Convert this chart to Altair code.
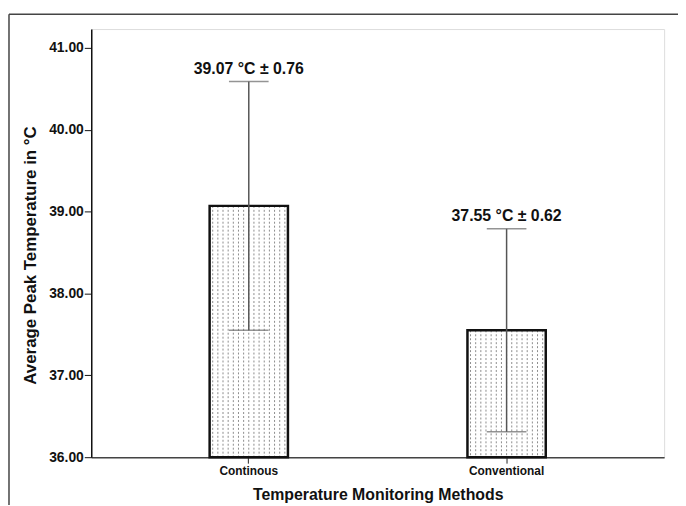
import altair as alt
import pandas as pd

# ---- data ----
methods = ["Continous", "Conventional"]
means = [39.07, 37.55]
sd = [0.76, 0.62]
err_low = [37.55, 36.31]
err_high = [40.59, 38.79]
labels = ["39.07 °C ± 0.76", "37.55 °C ± 0.62"]
y_ticks = [36, 37, 38, 39, 40, 41]

df = pd.DataFrame({"method": methods, "mean": means, "sd": sd,
                   "lo": err_low, "hi": err_high, "label": labels})

FONT = "Liberation Sans"
W, H = 578, 432
x_pad_outer = 0.111

xscale = alt.Scale(domain=methods, paddingInner=0, paddingOuter=x_pad_outer)
yscale = alt.Scale(domain=[36, 41.23], nice=False, zero=False)

x_enc = alt.X("method:N", scale=xscale, sort=methods,
              axis=alt.Axis(title="Temperature Monitoring Methods", labelAngle=0,
                            labelFont=FONT, labelFontSize=12, labelFontWeight="bold",
                            labelColor="#111", tickSize=6, tickColor="#222",
                            domainColor="#444", domainWidth=1.5, labelPadding=2,
                            titleFont=FONT, titleFontSize=16, titleFontWeight="bold",
                            titleColor="#111", titlePadding=11))
y_enc = alt.Y("mean:Q", scale=yscale,
              axis=alt.Axis(values=y_ticks, format=".2f",
                            title="Average Peak Temperature in °C",
                            labelFont=FONT, labelFontSize=14, labelFontWeight="bold",
                            labelColor="#111", tickSize=7, tickColor="#111",
                            domainColor="#111", domainWidth=1.5, labelPadding=1,
                            titleFont=FONT, titleFontSize=17, titleFontWeight="bold",
                            titleColor="#111", titlePadding=9, titleY=228, grid=False))

xs = alt.X("method:N", scale=xscale, sort=methods)
base = alt.Chart(df)

bar_fill = base.mark_bar(size=79, fill="white", strokeWidth=0).encode(
    x=x_enc, y=y_enc, y2=alt.datum(36))

# decorative dotted fill pattern (vertical dotted lines inside each bar)
n_stripes = 15
stripe_step = 5.2
stripe_layers = []
for k in range(n_stripes):
    dx = (k - (n_stripes - 1) / 2) * stripe_step
    stripe_layers.append(
        base.mark_rule(color="#8c8c8c", strokeWidth=1, strokeDash=[2, 2], xOffset=dx)
        .encode(x=xs, y=alt.Y("mean:Q", scale=yscale), y2=alt.datum(36)))

bar_outline = base.mark_bar(size=79, fillOpacity=0, stroke="#111", strokeWidth=2.5).encode(
    x=xs, y=alt.Y("mean:Q", scale=yscale), y2=alt.datum(36))

err_line = base.mark_rule(color="#555555", strokeWidth=1.5).encode(
    x=xs, y=alt.Y("lo:Q", scale=yscale), y2="hi:Q")

cap_lo = base.mark_tick(orient="horizontal", size=40, thickness=1.5, color="#666666").encode(
    x=xs, y=alt.Y("lo:Q", scale=yscale))
cap_hi = base.mark_tick(orient="horizontal", size=40, thickness=1.5, color="#666666").encode(
    x=xs, y=alt.Y("hi:Q", scale=yscale))

text = base.mark_text(font=FONT, fontSize=16, fontWeight="bold", color="#111",
                      baseline="alphabetic", dy=-8).encode(
    x=xs, y=alt.Y("hi:Q", scale=yscale), text="label:N")

frame_df = pd.DataFrame({"a": [0]})
frame_left = alt.Chart(frame_df).mark_rule(color="#444", strokeWidth=1.5).encode(
    x=alt.value(-83), x2=alt.value(-83), y=alt.value(-15), y2=alt.value(600))
frame_top = alt.Chart(frame_df).mark_rule(color="#444", strokeWidth=1.5).encode(
    x=alt.value(-83), x2=alt.value(800), y=alt.value(-15), y2=alt.value(-15))

chart = alt.layer(bar_fill, *stripe_layers, bar_outline, err_line, cap_lo, cap_hi, text,
                  frame_left, frame_top).properties(
    width=W, height=H,
    padding={"left": 84, "top": 19, "right": 14, "bottom": 46},
    autosize=alt.AutoSizeParams(type="none"),
).configure_view(stroke="#222", strokeWidth=1.5).configure(background="white")

chart.save("out.html", embed_options={"renderer": "svg", "actions": False})
